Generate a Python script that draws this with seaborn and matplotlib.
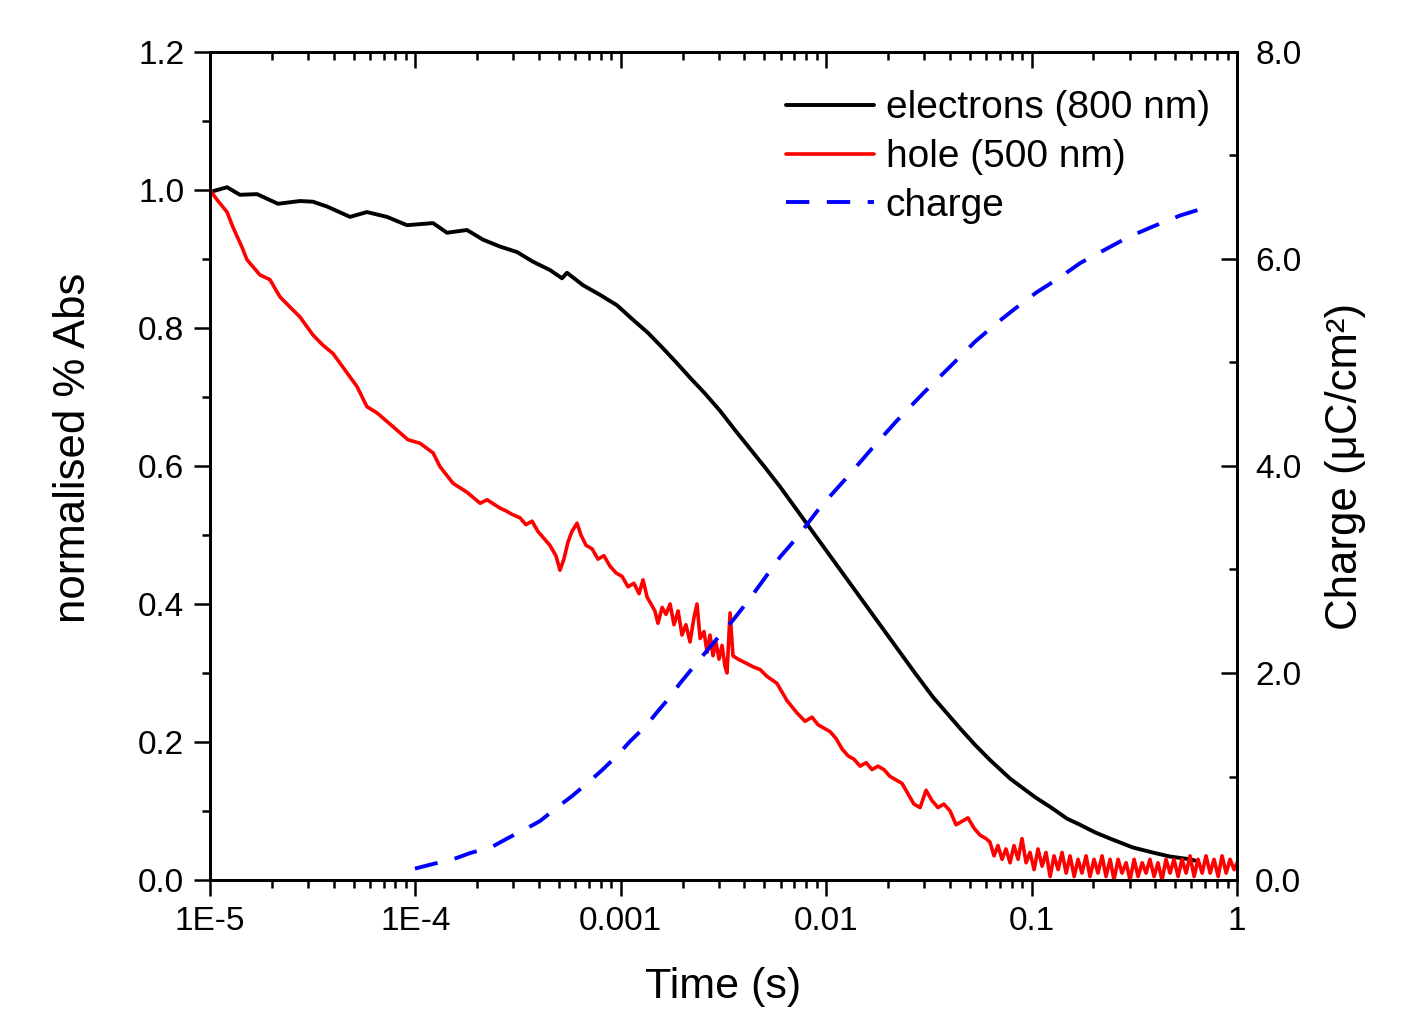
import numpy as np
import pandas as pd
import matplotlib
matplotlib.use("Agg")
import matplotlib.pyplot as plt
from matplotlib.ticker import LogLocator, MultipleLocator, FormatStrFormatter
import seaborn as sns

# Values (time given as log10 of seconds)

electron_logt = [-5.000, -4.917, -4.854, -4.771, -4.669, -4.562, -4.499, -4.430, -4.318,
                 -4.236, -4.138, -4.041, -3.914, -3.846, -3.749, -3.671, -3.588, -3.505,
                 -3.427, -3.345, -3.286, -3.262, -3.184, -3.101, -3.019, -2.941, -2.868,
                 -2.809, -2.736, -2.663, -2.590, -2.517, -2.444, -2.371, -2.298, -2.225,
                 -2.152, -2.079, -2.006, -1.933, -1.860, -1.787, -1.714, -1.641, -1.568,
                 -1.480, -1.422, -1.349, -1.276, -1.203, -1.105, -0.983, -0.910, -0.828,
                 -0.764, -0.691, -0.618, -0.506, -0.399, -0.326, -0.229, -0.204]
electron_abs = [0.997, 1.004, 0.993, 0.994, 0.980, 0.984, 0.983, 0.976, 0.961,
                0.968, 0.961, 0.949, 0.952, 0.938, 0.942, 0.928, 0.918, 0.910,
                0.896, 0.884, 0.872, 0.880, 0.862, 0.848, 0.833, 0.812, 0.793,
                0.775, 0.752, 0.728, 0.705, 0.680, 0.652, 0.625, 0.598, 0.570,
                0.540, 0.510, 0.480, 0.450, 0.420, 0.390, 0.360, 0.330, 0.300,
                0.265, 0.245, 0.220, 0.196, 0.174, 0.147, 0.120, 0.106, 0.089,
                0.080, 0.069, 0.060, 0.047, 0.039, 0.034, 0.030, 0.028]

hole_logt = [-5.000, -4.966, -4.917, -4.888, -4.844, -4.820, -4.757, -4.708, -4.659,
             -4.596, -4.562, -4.499, -4.450, -4.401, -4.333, -4.284, -4.236, -4.187,
             -4.109, -4.036, -3.978, -3.914, -3.880, -3.817, -3.749, -3.685, -3.651,
             -3.588, -3.559, -3.530, -3.491, -3.462, -3.432, -3.403, -3.374, -3.345,
             -3.316, -3.296, -3.277, -3.257, -3.238, -3.213, -3.194, -3.169, -3.140,
             -3.111, -3.082, -3.053, -3.023, -2.994, -2.965, -2.936, -2.911, -2.892,
             -2.872, -2.853, -2.834, -2.819, -2.799, -2.780, -2.760, -2.741, -2.721,
             -2.702, -2.683, -2.663, -2.644, -2.629, -2.614, -2.595, -2.580, -2.566,
             -2.551, -2.537, -2.522, -2.507, -2.493, -2.483, -2.468, -2.454, -2.429,
             -2.395, -2.356, -2.322, -2.288, -2.240, -2.191, -2.142, -2.103, -2.069,
             -2.040, -2.011, -1.981, -1.952, -1.923, -1.894, -1.865, -1.835, -1.806,
             -1.777, -1.748, -1.719, -1.689, -1.660, -1.631, -1.602, -1.573, -1.543,
             -1.514, -1.485, -1.456, -1.427, -1.397, -1.368, -1.339, -1.310, -1.280,
             -1.251, -1.222, -1.203, -1.183, -1.164, -1.144, -1.125, -1.105, -1.086,
             -1.066, -1.047, -1.027, -1.008, -0.988, -0.969, -0.949, -0.930, -0.910,
             -0.891, -0.871, -0.852, -0.832, -0.813, -0.793, -0.774, -0.755, -0.735,
             -0.716, -0.696, -0.677, -0.657, -0.638, -0.618, -0.599, -0.579, -0.560,
             -0.540, -0.521, -0.501, -0.482, -0.462, -0.443, -0.424, -0.404, -0.385,
             -0.365, -0.346, -0.326, -0.307, -0.287, -0.268, -0.248, -0.229, -0.209,
             -0.190, -0.170, -0.151, -0.131, -0.112, -0.092, -0.073, -0.053, -0.034,
             -0.014, 0.000]
hole_abs = [1.000, 0.986, 0.968, 0.946, 0.917, 0.899, 0.877, 0.870, 0.845,
            0.826, 0.816, 0.790, 0.775, 0.763, 0.735, 0.715, 0.686, 0.677,
            0.657, 0.638, 0.633, 0.619, 0.599, 0.575, 0.562, 0.546, 0.551,
            0.539, 0.535, 0.530, 0.525, 0.515, 0.520, 0.505, 0.495, 0.485,
            0.470, 0.449, 0.465, 0.490, 0.505, 0.517, 0.500, 0.485, 0.480,
            0.465, 0.470, 0.455, 0.445, 0.440, 0.425, 0.430, 0.415, 0.435,
            0.410, 0.400, 0.390, 0.372, 0.395, 0.385, 0.400, 0.370, 0.390,
            0.355, 0.370, 0.345, 0.380, 0.400, 0.350, 0.360, 0.330, 0.355,
            0.325, 0.345, 0.320, 0.340, 0.310, 0.300, 0.387, 0.325, 0.320,
            0.315, 0.309, 0.305, 0.295, 0.285, 0.260, 0.242, 0.230, 0.236,
            0.225, 0.220, 0.215, 0.205, 0.190, 0.180, 0.175, 0.165, 0.170,
            0.160, 0.165, 0.160, 0.150, 0.145, 0.140, 0.125, 0.110, 0.105,
            0.130, 0.115, 0.105, 0.110, 0.100, 0.080, 0.085, 0.090, 0.075,
            0.065, 0.060, 0.055, 0.035, 0.050, 0.030, 0.045, 0.025, 0.050,
            0.030, 0.060, 0.025, 0.040, 0.015, 0.045, 0.020, 0.040, 0.005,
            0.035, 0.015, 0.040, 0.010, 0.035, 0.005, 0.030, 0.010, 0.035,
            0.005, 0.030, 0.010, 0.035, 0.005, 0.030, 0.000, 0.030, 0.010,
            0.025, 0.000, 0.030, 0.005, 0.025, 0.010, 0.030, 0.005, 0.025,
            0.000, 0.030, 0.010, 0.030, 0.005, 0.030, 0.010, 0.035, 0.005,
            0.030, 0.010, 0.035, 0.010, 0.030, 0.005, 0.035, 0.010, 0.030,
            0.015, 0.025]

charge_logt = [-4.002, -3.914, -3.817, -3.734, -3.627, -3.554, -3.466, -3.393, -3.311,
               -3.238, -3.160, -3.092, -3.019, -2.955, -2.882, -2.824, -2.760, -2.712,
               -2.629, -2.541, -2.454, -2.371, -2.298, -2.225, -2.142, -2.030, -1.899,
               -1.777, -1.655, -1.529, -1.397, -1.276, -1.164, -1.081, -0.974, -0.871,
               -0.764, -0.643, -0.531, -0.414, -0.277, -0.131]
charge_uc = [0.11, 0.155, 0.20, 0.26, 0.32, 0.40, 0.49, 0.57, 0.70,
             0.81, 0.94, 1.06, 1.20, 1.34, 1.48, 1.62, 1.77, 1.90,
             2.10, 2.31, 2.51, 2.72, 2.92, 3.12, 3.31, 3.60, 3.89,
             4.17, 4.44, 4.70, 4.96, 5.20, 5.39, 5.52, 5.68, 5.81,
             5.96, 6.09, 6.21, 6.31, 6.42, 6.51]

xtick_vals = [1e-5, 1e-4, 1e-3, 1e-2, 1e-1, 1]
xtick_labels = ["1E-5", "1E-4", "0.001", "0.01", "0.1", "1"]

electrons = pd.DataFrame({"time": 10.0 ** np.array(electron_logt), "abs": electron_abs})
holes = pd.DataFrame({"time": 10.0 ** np.array(hole_logt), "abs": hole_abs})
charge = pd.DataFrame({"time": 10.0 ** np.array(charge_logt), "charge": charge_uc})

sns.set_style("ticks")
plt.rcParams["font.family"] = ["Liberation Sans", "DejaVu Sans"]
plt.rcParams["axes.linewidth"] = 2.0
for key in ["text.color", "axes.labelcolor", "axes.edgecolor", "xtick.color", "ytick.color"]:
    plt.rcParams[key] = "black"

fig = plt.figure(figsize=(14.12, 10.15), dpi=100)
ax = fig.add_axes([0.1487, 0.1330, 0.7274, 0.8158])
ax2 = ax.twinx()

sns.lineplot(data=electrons, x="time", y="abs", ax=ax, color="black", lw=2.8,
             label="electrons (800 nm)", sort=False)
sns.lineplot(data=holes, x="time", y="abs", ax=ax, color="#ff0000", lw=2.6,
             label="hole (500 nm)", sort=False)
sns.lineplot(data=charge, x="time", y="charge", ax=ax2, color="#0000ff", lw=2.8,
             label="charge", sort=False, linestyle=(0, (6, 4.5)))

ax.set_xscale("log")
ax.set_xlim(1e-5, 1)
ax.set_ylim(0, 1.2)
ax2.set_ylim(0, 8.0)

ax.set_xticks(xtick_vals, labels=xtick_labels)
ax.xaxis.set_minor_locator(LogLocator(base=10, subs=np.arange(2, 10)))
ax.yaxis.set_major_locator(MultipleLocator(0.2))
ax.yaxis.set_minor_locator(MultipleLocator(0.1))
ax.yaxis.set_major_formatter(FormatStrFormatter("%.1f"))
ax2.yaxis.set_major_locator(MultipleLocator(2.0))
ax2.yaxis.set_minor_locator(MultipleLocator(1.0))
ax2.yaxis.set_major_formatter(FormatStrFormatter("%.1f"))

# bottom/left ticks point out, top/right ticks point in
ax.tick_params(axis="both", which="major", direction="out", length=11.5, width=1.8,
               labelsize=24, colors="black")
ax.tick_params(axis="both", which="minor", direction="out", length=5.5, width=1.8)
ax.tick_params(axis="y", which="major", pad=7)
ax.tick_params(axis="x", which="major", pad=7)
ax2.xaxis.set_visible(True)
ax2.tick_params(axis="x", which="both", top=True, bottom=False, labeltop=False,
                labelbottom=False, direction="in", width=1.8)
ax2.tick_params(axis="x", which="major", length=11.5)
ax2.tick_params(axis="x", which="minor", length=5.5)
ax2.tick_params(axis="y", which="major", direction="in", length=11.5, width=1.8,
                labelsize=24, pad=13)
ax2.tick_params(axis="y", which="minor", direction="in", length=5.5, width=1.8)

for a in (ax, ax2):
    for s in a.spines.values():
        s.set_visible(True)
        s.set_linewidth(2.0)

ax2.set_xlabel("")
ax.set_xlabel("Time (s)", fontsize=31, labelpad=22)
ax.set_ylabel("normalised % Abs", fontsize=31.5, labelpad=32)
ax.yaxis.label.set_y(0.522)
ax2.set_ylabel("Charge (\u03bcC/cm\u00b2)", fontsize=31.5, labelpad=17)

h1, l1 = ax.get_legend_handles_labels()
h2, l2 = ax2.get_legend_handles_labels()
if ax.get_legend() is not None:
    ax.get_legend().remove()
ax2.legend(h1 + h2, l1 + l2, loc="upper right", bbox_to_anchor=(1.0, 0.9865),
           frameon=False, fontsize=28, handlelength=2.26, handletextpad=0.3,
           labelspacing=0.33, borderaxespad=0.3)

fig.savefig("out.png", dpi=100)
